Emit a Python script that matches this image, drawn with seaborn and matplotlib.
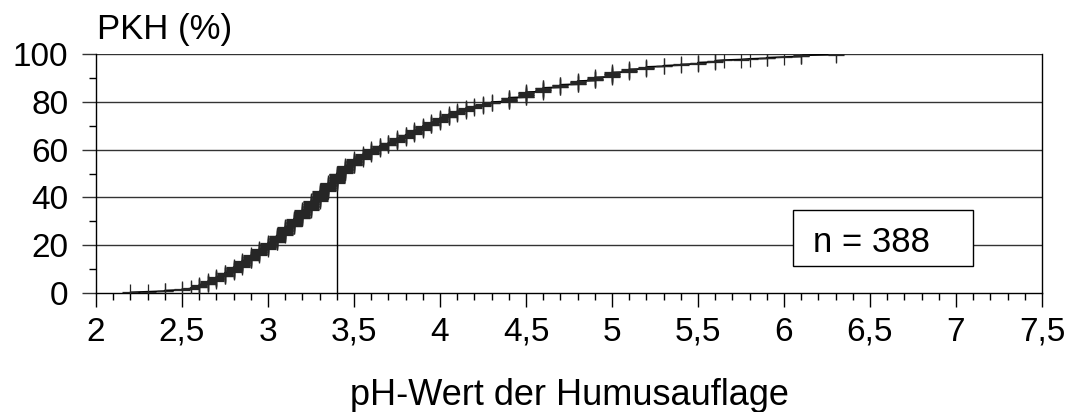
import numpy as np
import pandas as pd
import matplotlib
matplotlib.use("Agg")
import matplotlib.pyplot as plt
import seaborn as sns
from matplotlib.ticker import MultipleLocator, FuncFormatter
from matplotlib.patches import Rectangle

# ---- data ----
ph_values = [2.2, 2.3, 2.4, 2.5, 2.55, 2.6, 2.65, 2.7, 2.75, 2.8, 2.85, 2.9, 2.95,
             3.0, 3.05, 3.1, 3.15, 3.2, 3.25, 3.3, 3.35, 3.4, 3.45, 3.5, 3.55,
             3.6, 3.65, 3.7, 3.75, 3.8, 3.85, 3.9, 3.95, 4.0, 4.05, 4.1, 4.15,
             4.2, 4.25, 4.3, 4.4, 4.5, 4.6, 4.7, 4.8, 4.9, 5.0, 5.1, 5.2, 5.3,
             5.4, 5.5, 5.6, 5.65, 5.75, 5.8, 5.9, 6.0, 6.1, 6.3]
ph_counts = [1, 1, 2, 2, 2, 5, 6, 7, 7, 9, 10, 9, 10,
             10, 12, 14, 13, 14, 15, 16, 13, 16, 12, 11, 8,
             8, 6, 5, 7, 6, 7, 7, 6, 7, 6, 5, 5,
             3, 4, 3, 7, 9, 7, 5, 6, 6, 8, 5, 4, 2,
             2, 3, 3, 1, 1, 1, 2, 1, 3, 2]
median_ph = 3.4
median_pkh = 50
n_label = "n = 388"
x_ticks = [2, 2.5, 3, 3.5, 4, 4.5, 5, 5.5, 6, 6.5, 7, 7.5]
y_ticks = [0, 20, 40, 60, 80, 100]
x_title = "pH-Wert der Humusauflage"
y_title = "PKH (%)"

# ---- build cumulative frequency ----
obs = np.sort(np.repeat(np.array(ph_values), np.array(ph_counts)))
n = len(obs)
pkh = np.arange(1, n + 1) / n * 100
df = pd.DataFrame({"ph": obs, "pkh": pkh})

sns.set_theme(style="white")
plt.rcParams["font.family"] = ["Liberation Sans", "DejaVu Sans"]

W, H = 1071, 412
fig = plt.figure(figsize=(W / 100, H / 100), dpi=100)
ax = fig.add_axes([96 / W, 1 - 293 / H, (1042 - 96) / W, (293 - 54) / H])

for yv in y_ticks[1:]:
    ax.axhline(yv, color="#333333", lw=1.0, zorder=1)

ax.vlines(median_ph, 0, median_pkh, color="black", lw=1.0, zorder=2)

sns.lineplot(data=df, x="ph", y="pkh", estimator=None, sort=False, ax=ax,
             color="black", lw=1.3, marker="+", markersize=12,
             markeredgewidth=0.9, markeredgecolor="#262626", zorder=3)

ax.set_xlim(x_ticks[0], x_ticks[-1])
ax.set_ylim(y_ticks[0], y_ticks[-1])
ax.xaxis.set_major_locator(plt.FixedLocator(x_ticks))
ax.xaxis.set_minor_locator(MultipleLocator(0.1))
ax.yaxis.set_major_locator(plt.FixedLocator(y_ticks))
ax.yaxis.set_minor_locator(MultipleLocator(10))
ax.xaxis.set_major_formatter(FuncFormatter(lambda v, p: ("%g" % v).replace(".", ",")))
ax.yaxis.set_major_formatter(FuncFormatter(lambda v, p: "%d" % v))

ax.tick_params(axis="x", which="major", direction="out", length=10, width=1.0,
               color="black", labelsize=24, pad=7, bottom=True, labelcolor="black")
ax.tick_params(axis="x", which="minor", direction="out", length=5, width=1.0,
               color="black", bottom=True)
ax.tick_params(axis="y", which="major", direction="out", length=10, width=1.0,
               color="#333333", labelsize=24, pad=10, left=True, labelcolor="black")
ax.tick_params(axis="y", which="minor", direction="out", length=5, width=1.0,
               color="black", left=True)

for side in ["left", "bottom", "right"]:
    ax.spines[side].set_visible(True)
    ax.spines[side].set_color("black")
    ax.spines[side].set_linewidth(1.0)
ax.spines["top"].set_visible(False)

ax.set_xlabel("")
ax.set_ylabel("")
fig.text(569 / W, 1 - 405 / H, x_title, fontsize=26, ha="center", va="baseline",
         color="black")
fig.text(97 / W, 1 - 39 / H, y_title, fontsize=25, ha="left", va="baseline",
         color="black")

# n box
ax.add_patch(Rectangle(((793 - 96) / 946, (293 - 266) / 239), 180 / 946, 56 / 239,
                       transform=ax.transAxes, fc="white", ec="black", lw=1.0,
                       zorder=4))
ax.text((813 - 96) / 946, (293 - 252) / 239, n_label, transform=ax.transAxes,
        fontsize=25, ha="left", va="baseline", color="black", zorder=5)

ax.set_facecolor("white")
fig.patch.set_facecolor("white")
fig.savefig("out.png", dpi=100, facecolor="white")
